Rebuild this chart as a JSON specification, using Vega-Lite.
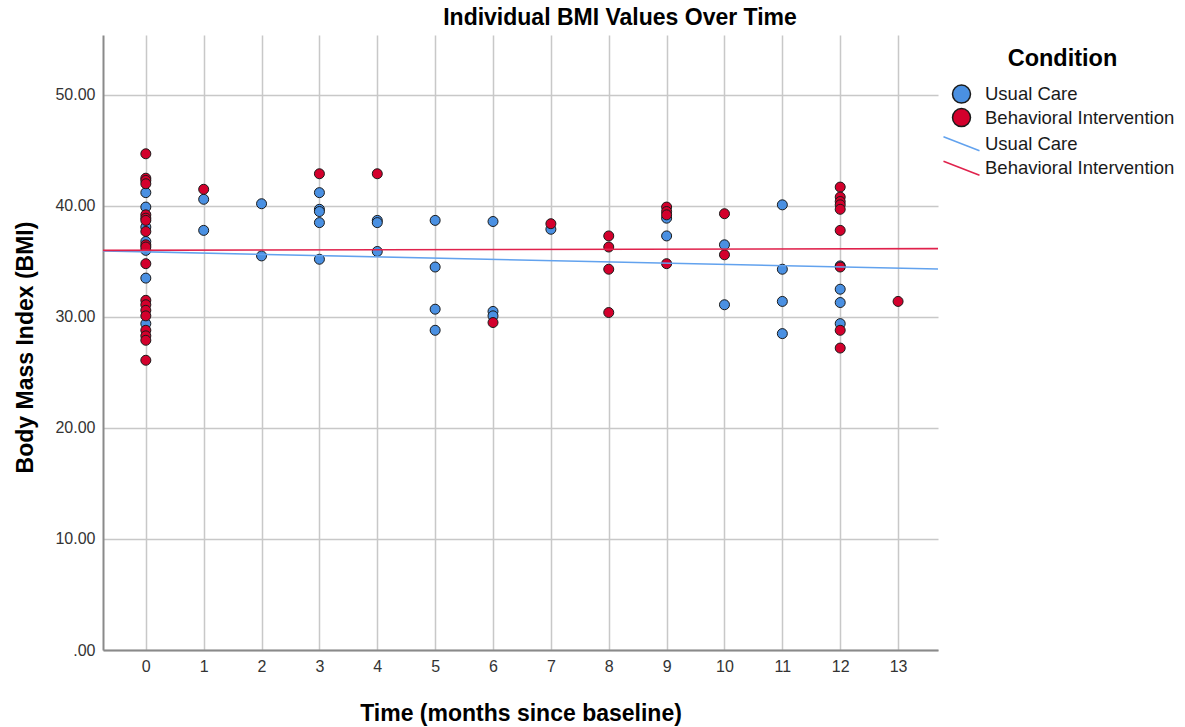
{
  "$schema": "https://vega.github.io/schema/vega-lite/v6.json",
  "width": 835,
  "height": 615,
  "autosize": "none",
  "padding": {"left": 103, "top": 35, "right": 247, "bottom": 77},
  "background": "white",
  "title": {
    "text": "Individual BMI Values Over Time",
    "fontSize": 23,
    "fontWeight": "bold",
    "font": "Liberation Sans",
    "color": "#000000",
    "anchor": "middle",
    "dx": 99.5,
    "offset": -13,
    "baseline": "alphabetic"
  },
  "datasets": {
    "points": [
      {"time": 0, "bmi": 41.2, "condition": "Usual Care"},
      {"time": 0, "bmi": 39.9, "condition": "Usual Care"},
      {"time": 0, "bmi": 38.1, "condition": "Usual Care"},
      {"time": 0, "bmi": 36.8, "condition": "Usual Care"},
      {"time": 0, "bmi": 36.0, "condition": "Usual Care"},
      {"time": 0, "bmi": 33.5, "condition": "Usual Care"},
      {"time": 0, "bmi": 29.4, "condition": "Usual Care"},
      {"time": 1, "bmi": 40.6, "condition": "Usual Care"},
      {"time": 1, "bmi": 37.8, "condition": "Usual Care"},
      {"time": 2, "bmi": 40.2, "condition": "Usual Care"},
      {"time": 2, "bmi": 35.5, "condition": "Usual Care"},
      {"time": 3, "bmi": 41.2, "condition": "Usual Care"},
      {"time": 3, "bmi": 39.7, "condition": "Usual Care"},
      {"time": 3, "bmi": 39.5, "condition": "Usual Care"},
      {"time": 3, "bmi": 38.5, "condition": "Usual Care"},
      {"time": 3, "bmi": 35.2, "condition": "Usual Care"},
      {"time": 4, "bmi": 38.7, "condition": "Usual Care"},
      {"time": 4, "bmi": 38.5, "condition": "Usual Care"},
      {"time": 4, "bmi": 35.9, "condition": "Usual Care"},
      {"time": 5, "bmi": 38.7, "condition": "Usual Care"},
      {"time": 5, "bmi": 34.5, "condition": "Usual Care"},
      {"time": 5, "bmi": 30.7, "condition": "Usual Care"},
      {"time": 5, "bmi": 28.8, "condition": "Usual Care"},
      {"time": 6, "bmi": 38.6, "condition": "Usual Care"},
      {"time": 6, "bmi": 30.5, "condition": "Usual Care"},
      {"time": 6, "bmi": 30.1, "condition": "Usual Care"},
      {"time": 7, "bmi": 37.9, "condition": "Usual Care"},
      {"time": 9, "bmi": 38.9, "condition": "Usual Care"},
      {"time": 9, "bmi": 37.3, "condition": "Usual Care"},
      {"time": 10, "bmi": 36.5, "condition": "Usual Care"},
      {"time": 10, "bmi": 31.1, "condition": "Usual Care"},
      {"time": 11, "bmi": 40.1, "condition": "Usual Care"},
      {"time": 11, "bmi": 34.3, "condition": "Usual Care"},
      {"time": 11, "bmi": 31.4, "condition": "Usual Care"},
      {"time": 11, "bmi": 28.5, "condition": "Usual Care"},
      {"time": 12, "bmi": 34.6, "condition": "Usual Care"},
      {"time": 12, "bmi": 32.5, "condition": "Usual Care"},
      {"time": 12, "bmi": 31.3, "condition": "Usual Care"},
      {"time": 12, "bmi": 29.4, "condition": "Usual Care"},
      {"time": 0, "bmi": 44.7, "condition": "Behavioral Intervention"},
      {"time": 0, "bmi": 42.5, "condition": "Behavioral Intervention"},
      {"time": 0, "bmi": 42.3, "condition": "Behavioral Intervention"},
      {"time": 0, "bmi": 42.0, "condition": "Behavioral Intervention"},
      {"time": 0, "bmi": 39.2, "condition": "Behavioral Intervention"},
      {"time": 0, "bmi": 38.9, "condition": "Behavioral Intervention"},
      {"time": 0, "bmi": 38.7, "condition": "Behavioral Intervention"},
      {"time": 0, "bmi": 37.7, "condition": "Behavioral Intervention"},
      {"time": 0, "bmi": 36.5, "condition": "Behavioral Intervention"},
      {"time": 0, "bmi": 36.3, "condition": "Behavioral Intervention"},
      {"time": 0, "bmi": 34.8, "condition": "Behavioral Intervention"},
      {"time": 0, "bmi": 31.5, "condition": "Behavioral Intervention"},
      {"time": 0, "bmi": 31.1, "condition": "Behavioral Intervention"},
      {"time": 0, "bmi": 30.6, "condition": "Behavioral Intervention"},
      {"time": 0, "bmi": 30.1, "condition": "Behavioral Intervention"},
      {"time": 0, "bmi": 28.8, "condition": "Behavioral Intervention"},
      {"time": 0, "bmi": 28.3, "condition": "Behavioral Intervention"},
      {"time": 0, "bmi": 27.9, "condition": "Behavioral Intervention"},
      {"time": 0, "bmi": 26.1, "condition": "Behavioral Intervention"},
      {"time": 1, "bmi": 41.5, "condition": "Behavioral Intervention"},
      {"time": 3, "bmi": 42.9, "condition": "Behavioral Intervention"},
      {"time": 4, "bmi": 42.9, "condition": "Behavioral Intervention"},
      {"time": 6, "bmi": 29.5, "condition": "Behavioral Intervention"},
      {"time": 7, "bmi": 38.4, "condition": "Behavioral Intervention"},
      {"time": 8, "bmi": 37.3, "condition": "Behavioral Intervention"},
      {"time": 8, "bmi": 36.3, "condition": "Behavioral Intervention"},
      {"time": 8, "bmi": 34.3, "condition": "Behavioral Intervention"},
      {"time": 8, "bmi": 30.4, "condition": "Behavioral Intervention"},
      {"time": 9, "bmi": 39.9, "condition": "Behavioral Intervention"},
      {"time": 9, "bmi": 39.5, "condition": "Behavioral Intervention"},
      {"time": 9, "bmi": 39.2, "condition": "Behavioral Intervention"},
      {"time": 9, "bmi": 34.8, "condition": "Behavioral Intervention"},
      {"time": 10, "bmi": 39.3, "condition": "Behavioral Intervention"},
      {"time": 10, "bmi": 35.6, "condition": "Behavioral Intervention"},
      {"time": 12, "bmi": 41.7, "condition": "Behavioral Intervention"},
      {"time": 12, "bmi": 40.8, "condition": "Behavioral Intervention"},
      {"time": 12, "bmi": 40.4, "condition": "Behavioral Intervention"},
      {"time": 12, "bmi": 40.1, "condition": "Behavioral Intervention"},
      {"time": 12, "bmi": 39.7, "condition": "Behavioral Intervention"},
      {"time": 12, "bmi": 37.8, "condition": "Behavioral Intervention"},
      {"time": 12, "bmi": 34.5, "condition": "Behavioral Intervention"},
      {"time": 12, "bmi": 28.8, "condition": "Behavioral Intervention"},
      {"time": 12, "bmi": 27.2, "condition": "Behavioral Intervention"},
      {"time": 13, "bmi": 31.4, "condition": "Behavioral Intervention"}
    ],
    "lines": [
      {"time": -0.74, "bmi": 35.95, "fit": "Usual Care"},
      {"time": 13.69, "bmi": 34.32, "fit": "Usual Care"},
      {"time": -0.74, "bmi": 36.0, "fit": "Behavioral Intervention"},
      {"time": 13.69, "bmi": 36.16, "fit": "Behavioral Intervention"}
    ]
  },
  "layer": [
    {
      "data": {"name": "points"},
      "mark": {"type": "point", "filled": true, "size": 100, "stroke": "#1a1a1a", "strokeWidth": 1, "opacity": 1, "shape": "circle"},
      "encoding": {
        "x": {
          "field": "time",
          "type": "quantitative",
          "scale": {"domain": [-0.74, 13.69], "nice": false, "zero": false},
          "axis": {
            "values": [0, 1, 2, 3, 4, 5, 6, 7, 8, 9, 10, 11, 12, 13],
            "format": "d",
            "title": "Time (months since baseline)",
            "titleBaseline": "alphabetic",
            "titleY": 70,
            "labelPadding": 8
          }
        },
        "y": {
          "field": "bmi",
          "type": "quantitative",
          "scale": {"domain": [0, 55.4], "nice": false},
          "axis": {
            "values": [0, 10, 20, 30, 40, 50],
            "labelExpr": "datum.value == 0 ? '.00' : format(datum.value, '.2f')",
            "title": "Body Mass Index (BMI)",
            "titleBaseline": "alphabetic",
            "titleAngle": -90,
            "titleX": -71,
            "titleY": 312,
            "titleAlign": "center",
            "labelPadding": 8
          }
        },
        "color": {
          "field": "condition",
          "type": "nominal",
          "scale": {"domain": ["Usual Care", "Behavioral Intervention"], "range": ["#4a90e2", "#d3002c"]},
          "legend": {
            "title": "Condition",
            "orient": "none",
            "legendX": 848.5,
            "legendY": 11.6,
            "padding": 0,
            "titleFontSize": 23.5,
            "titleFontWeight": "bold",
            "titleColor": "#000000",
            "titleAnchor": "middle",
            "titlePadding": 14,
            "labelFontSize": 18.5,
            "labelColor": "#1a1a1a",
            "labelLimit": 300,
            "labelOffset": 13.5,
            "symbolType": "circle",
            "symbolSize": 324,
            "symbolStrokeColor": "#1a1a1a",
            "symbolStrokeWidth": 1.5,
            "symbolOpacity": 1,
            "rowPadding": -0.5
          }
        }
      }
    },
    {
      "data": {"name": "lines"},
      "mark": {"type": "line", "strokeWidth": 1.6},
      "encoding": {
        "x": {"field": "time", "type": "quantitative"},
        "y": {"field": "bmi", "type": "quantitative"},
        "color": {
          "field": "fit",
          "type": "nominal",
          "scale": {"domain": ["Usual Care", "Behavioral Intervention"], "range": ["#62a2ee", "#e0224c"]},
          "legend": {
            "title": null,
            "orient": "none",
            "legendX": 848.5,
            "legendY": 98.8,
            "padding": 0,
            "labelFontSize": 18.5,
            "labelColor": "#1a1a1a",
            "labelLimit": 300,
            "labelOffset": 13.5,
            "symbolType": "M-2,-0.78L2,0.78",
            "symbolSize": 324,
            "symbolStrokeWidth": 1.5,
            "rowPadding": 2.5
          }
        }
      }
    }
  ],
  "resolve": {"scale": {"color": "independent"}},
  "config": {
    "font": "Liberation Sans",
    "view": {"stroke": null},
    "axis": {
      "grid": true,
      "gridColor": "#c8c8c8",
      "gridWidth": 1.5,
      "ticks": false,
      "domainColor": "#8a8a8a",
      "domainWidth": 2,
      "labelFontSize": 16,
      "labelColor": "#333333",
      "labelFont": "Liberation Sans",
      "labelFlush": false,
      "labelOverlap": false,
      "titleFontSize": 23,
      "titleFontWeight": "bold",
      "titleColor": "#000000",
      "titleFont": "Liberation Sans"
    },
    "legend": {"labelFont": "Liberation Sans", "titleFont": "Liberation Sans"}
  }
}
